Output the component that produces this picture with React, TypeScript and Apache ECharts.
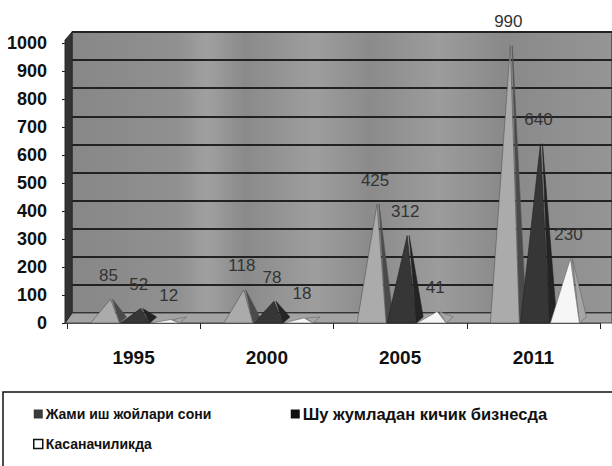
import React, { useEffect, useRef } from "react";
import * as echarts from "echarts";

const categories = ["1995", "2000", "2005", "2011"];
const seriesNames = [
  "Жами иш жойлари сони",
  "Шу жумладан кичик бизнесда",
  "Касаначиликда",
];
const totalJobs = [85, 118, 425, 990];
const smallBusiness = [52, 78, 312, 640];
const homeWork = [12, 18, 41, 230];
const yTicks = { min: 0, max: 1000, interval: 100 };

const SANS = "'Liberation Sans', Arial, sans-serif";

function pyramid(offsetFrac: number, front: string, side: string, stroke: string) {
  return (params: any, api: any) => {
    const i = api.value(0);
    const v = api.value(1);
    const base = api.coord([i, 0]);
    const top = api.coord([i, v]);
    const cw = api.size([1, 0])[0];
    const cx = base[0] + cw * offsetFrac;
    const y0 = base[1];
    const yt = top[1];
    const a = 20;
    const b = 9;
    return {
      type: "group",
      children: [
        {
          type: "polygon",
          shape: { points: [[cx + b, y0], [cx + b + 7, y0 - 6], [cx + 2, yt]] },
          style: { fill: side, stroke, lineWidth: 0.6 },
        },
        {
          type: "polygon",
          shape: { points: [[cx - a, y0], [cx + b, y0], [cx, yt]] },
          style: { fill: front, stroke, lineWidth: 0.6 },
        },
        {
          type: "text",
          style: {
            text: String(v),
            x: cx - 2,
            y: yt - 24,
            align: "center",
            verticalAlign: "middle",
            fill: "#333",
            font: `17px ${SANS}`,
          },
        },
      ],
    };
  };
}

export default function App() {
  const ref = useRef<HTMLDivElement>(null);
  useEffect(() => {
    if (!ref.current) return;
    const chart = echarts.init(ref.current, null, { renderer: "svg" });
    const mk = (name: string, data: number[], off: number, front: string, side: string, stroke: string) => ({
      type: "custom",
      name,
      xAxisIndex: 1,
      yAxisIndex: 1,
      data: data.map((v, i) => [i, v]),
      encode: { x: 0, y: 1 },
      itemStyle: { color: front },
      renderItem: pyramid(off, front, side, stroke),
      z: 5,
    });
    chart.setOption({
      animation: false,
      backgroundColor: "#fff",
      grid: [
        {
          left: 72,
          right: 0,
          top: 32,
          height: 281,
          show: true,
          backgroundColor: new echarts.graphic.LinearGradient(0, 0, 1, 0, [
            { offset: 0, color: "#878787" },
            { offset: 0.2, color: "#919191" },
            { offset: 0.25, color: "#a0a0a0" },
            { offset: 0.32, color: "#8a8a8a" },
            { offset: 0.45, color: "#9e9e9e" },
            { offset: 0.55, color: "#8b8b8b" },
            { offset: 0.68, color: "#9c9c9c" },
            { offset: 0.8, color: "#898989" },
            { offset: 1, color: "#959595" },
          ]),
          borderColor: "#333",
          borderWidth: 1.2,
        },
        { left: 67, width: 533, top: 43, height: 280 },
      ],
      xAxis: [
        {
          gridIndex: 0,
          type: "category",
          data: categories,
          show: false,
        },
        {
          gridIndex: 1,
          type: "category",
          data: categories,
          axisLine: { lineStyle: { color: "#222", width: 1.5 } },
          axisTick: { show: true, length: 6, lineStyle: { color: "#222" } },
          axisLabel: {
            margin: 25,
            color: "#111",
            fontWeight: "bold",
            fontSize: 19,
            fontFamily: SANS,
          },
        },
      ],
      yAxis: [
        {
          gridIndex: 0,
          type: "value",
          ...yTicks,
          axisLabel: { show: false },
          axisLine: { show: false },
          axisTick: { show: false },
          splitLine: { lineStyle: { color: "#222", width: 1.8 } },
        },
        {
          gridIndex: 1,
          type: "value",
          ...yTicks,
          axisLine: { show: false },
          axisTick: { show: true, length: 5, lineStyle: { color: "#222" } },
          splitLine: { show: false },
          axisLabel: {
            margin: 20,
            color: "#111",
            fontWeight: "bold",
            fontSize: 18,
            fontFamily: SANS,
            formatter: (v: number) => String(v),
          },
        },
      ],
      graphic: [
        {
          type: "polygon",
          z: 1,
          shape: { points: [[65, 323], [72, 313], [612, 313], [612, 323]] },
          style: { fill: "#a3a3a3", stroke: "#444", lineWidth: 1 },
        },
        {
          type: "polygon",
          z: 1,
          shape: { points: [[65, 40], [72, 32], [72, 313], [65, 323]] },
          style: { fill: "#333", stroke: "#2a2a2a", lineWidth: 1 },
        },
        {
          type: "rect",
          z: 1,
          shape: { x: 3, y: 392, width: 640, height: 120 },
          style: { fill: "#fff", stroke: "#111", lineWidth: 1.5 },
        },
      ],
      legend: {
        left: 28,
        top: 399,
        width: 560,
        itemWidth: 9,
        itemHeight: 9,
        itemGap: 10,
        icon: "rect",
        z: 10,
        data: [
          { name: seriesNames[0], itemStyle: { color: "#3a3a3a" } },
          { name: seriesNames[1], itemStyle: { color: "#111" }, textStyle: { fontSize: 16.5 } },
          { name: seriesNames[2], itemStyle: { color: "#fff", borderColor: "#111", borderWidth: 1.5 } },
        ],
        textStyle: {
          width: 235,
          lineHeight: 20,
          color: "#111",
          fontWeight: "bold",
          fontSize: 14,
          fontFamily: SANS,
          padding: [0, 0, 0, -2],
        },
      },
      series: [
        mk(seriesNames[0], totalJobs, -0.173, "#ababab", "#4a4a4a", "#555"),
        mk(seriesNames[1], smallBusiness, 0.053, "#363636", "#242424", "#222"),
        mk(seriesNames[2], homeWork, 0.278, "#f6f6f6", "#a6a6a6", "#666"),
      ],
    });
    return () => chart.dispose();
  }, []);
  return <div ref={ref} style={{ width: 612, height: 466, position: "absolute", left: 0, top: 0 }} />;
}
